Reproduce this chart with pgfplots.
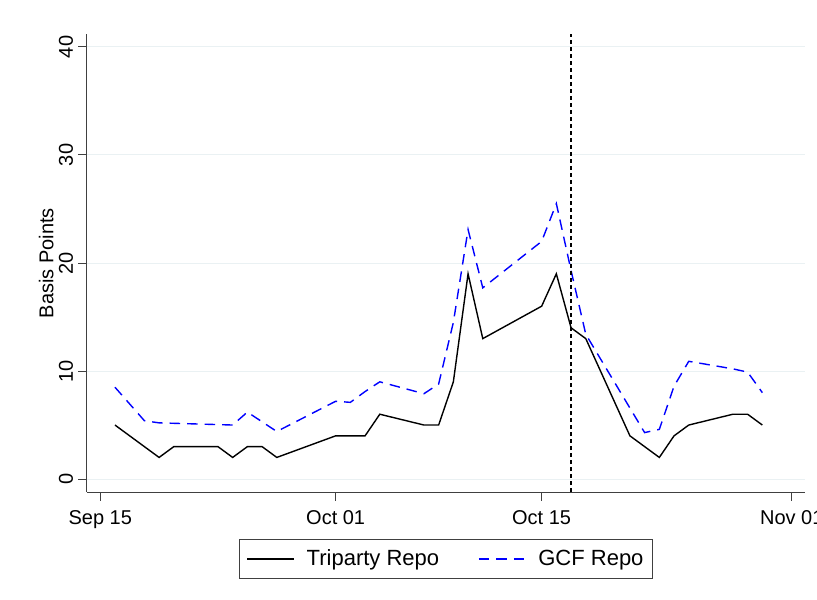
\documentclass[border=0pt]{standalone}
\usepackage{pgfplots}
\pgfplotsset{compat=1.18}
\usepackage{fontspec}
\setmainfont{Liberation Sans}
\definecolor{gridc}{RGB}{234,241,243}
\definecolor{gcfblue}{RGB}{0,0,255}
\begin{document}
\fontsize{20}{24}\selectfont
\begin{tikzpicture}
\path[use as bounding box] (-87pt,-108pt) rectangle (730pt,492pt);
\begin{axis}[
  at={(0pt,0pt)}, anchor=south west,
  scale only axis, width=718pt, height=458pt,
  xmin=-0.9, xmax=47.9, ymin=-1.2, ymax=41.2,
  axis lines=left,
  axis line style={-, black!75, line width=1pt},
  tick align=outside,
  major tick length=8.5pt,
  tick style={black!75, line width=1pt},
  xtick={0,16,30,47},
  xticklabels={Sep 15, Oct 01, Oct 15, Nov 01},
  ytick={0,10,20,30,40},
  ymajorgrids,
  grid style={gridc, line width=1pt},
  /pgf/number format/assume math mode=true,
  xticklabel style={anchor=base, inner sep=0pt, yshift=-24pt},
  yticklabel style={xshift=-5.5pt, rotate=90, anchor=base, inner sep=0pt},
  /pgfplots/every axis y label/.style={at={(axis description cs:-0.0469,0.5)}, rotate=90, anchor=base},
  ylabel={Basis Points},
  legend columns=2,
  legend style={at={(0.5,-0.1026)}, anchor=north, draw=black!75, line width=0.9pt,
    font=\fontsize{22}{26}\selectfont,
    inner xsep=7pt, inner ysep=8pt,
    /tikz/every even column/.append style={column sep=37pt}},
  legend image code/.code={\draw[#1] (0pt,0pt) -- (47pt,0pt); \node[inner sep=0pt, draw=none] at (57pt,0pt) {};},
]
\addplot[black, line width=1.4pt] coordinates {
(1,5) (4,2) (5,3) (8,3) (9,2) (10,3) (11,3) (12,2) (16,4) (17,4) (18,4) (19,6)
(22,5) (23,5) (24,9) (25,19) (26,13) (30,16) (31,19) (32,14) (33,13) (36,4)
(37,3) (38,2) (39,4) (40,5) (43,6) (44,6) (45,5)
};
\addlegendentry{Triparty Repo}
\addplot[gcfblue, line width=1.4pt, dash pattern=on 10.5pt off 7pt] coordinates {
(1,8.5) (3,5.4) (4,5.2) (9,5.0) (10,6.2) (12,4.4) (16,7.2) (17,7.1) (18,8.1)
(19,9.0) (22,7.9) (23,8.8) (24,14.5) (25,23.1) (26,17.7) (30,22.0) (31,25.5)
(32,19.3) (33,13.4) (37,4.3) (38,4.6) (39,8.6) (40,10.9) (43,10.2) (44,9.9) (45,8.0)
};
\addlegendentry{GCF Repo\hspace{10pt}}
\addplot[black, line width=1.6pt, dash pattern=on 4pt off 3pt, forget plot] coordinates {(32,-1.2) (32,41.2)};
\end{axis}
\end{tikzpicture}
\end{document}
